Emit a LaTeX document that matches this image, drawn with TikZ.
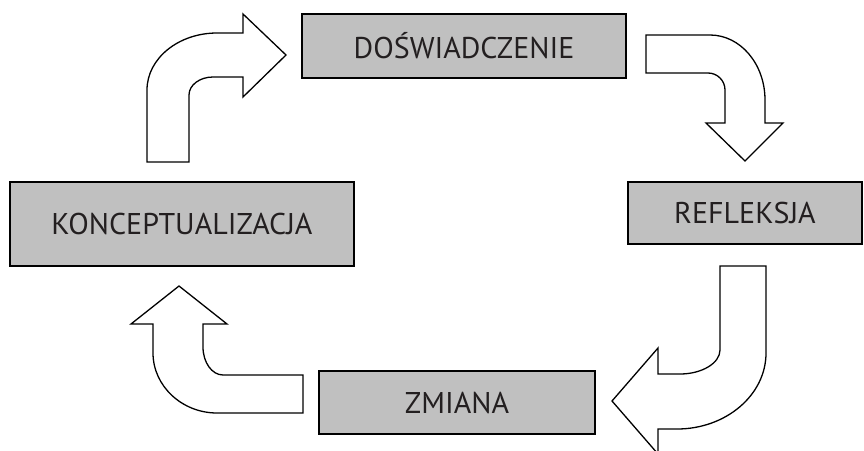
\documentclass[tikz,border=0pt]{standalone}
\usepackage{fontspec}
\setmainfont{PT Sans}
\definecolor{boxgray}{HTML}{C0C0C0}
\definecolor{inkdark}{HTML}{231F20}
\tikzset{
  stage/.style={draw=black, line width=1.6pt, fill=boxgray, rectangle,
    inner sep=0pt, text=inkdark, font=\fontsize{30}{33}\selectfont},
  blockarrow/.style={draw=black, line width=1.3pt, fill=white, line join=miter}
}
\begin{document}
\begin{tikzpicture}[x=1pt, y=-1pt]
  \clip (0,0) rectangle (864,450);
  \fill[white] (0,0) rectangle (864,450);

  % the four stages of the cycle
  \node[stage, minimum width=324pt, minimum height=64pt] (dos) at (464,46) {DOŚWIADCZENIE};
  \node[stage, minimum width=234pt, minimum height=62pt] (ref) at (745,213) {REFLEKSJA};
  \node[stage, minimum width=276pt, minimum height=63pt] (zmi) at (457,402.5) {ZMIANA};
  \node[stage, minimum width=344pt, minimum height=84pt] (kon) at (182,224) {KONCEPTUALIZACJA};

  % bent arrow: up, then right towards DOŚWIADCZENIE
  \draw[blockarrow] (147,162) -- (147,90)
    .. controls (147,58.5) and (178.4,33) .. (217,33) -- (243,33) -- (243,14)
    -- (286,55) -- (243,97) -- (243,77) -- (213,77)
    .. controls (199.8,77) and (189,85) .. (189,95) -- (189,162) -- cycle;

  % bent arrow: right, then down towards REFLEKSJA
  \draw[blockarrow] (646,35) -- (710,35)
    .. controls (740.4,35) and (765,64) .. (765,100) -- (765,123) -- (783,123)
    -- (745,161) -- (706,123) -- (725,123) -- (725,90)
    .. controls (725,80.6) and (717.4,73) .. (708,73) -- (646,73) -- cycle;

  % bent arrow: down, then left towards ZMIANA
  \draw[blockarrow] (720,266) -- (766,266) -- (766,353)
    .. controls (766,395) and (726,429) .. (677,429) -- (658,429) -- (658,454)
    -- (612,401) -- (658,348) -- (658,374) -- (680,374)
    .. controls (702,374) and (720,363) .. (720,350) -- cycle;

  % bent arrow: left, then up towards KONCEPTUALIZACJA
  \draw[blockarrow] (303,375) -- (223,375)
    .. controls (212,375) and (203,362.5) .. (203,347) -- (203,324) -- (227,324)
    -- (179,286) -- (131,324) -- (153,324) -- (153,353)
    .. controls (153,386) and (182,413) .. (217,413) -- (303,413) -- cycle;
\end{tikzpicture}
\end{document}
